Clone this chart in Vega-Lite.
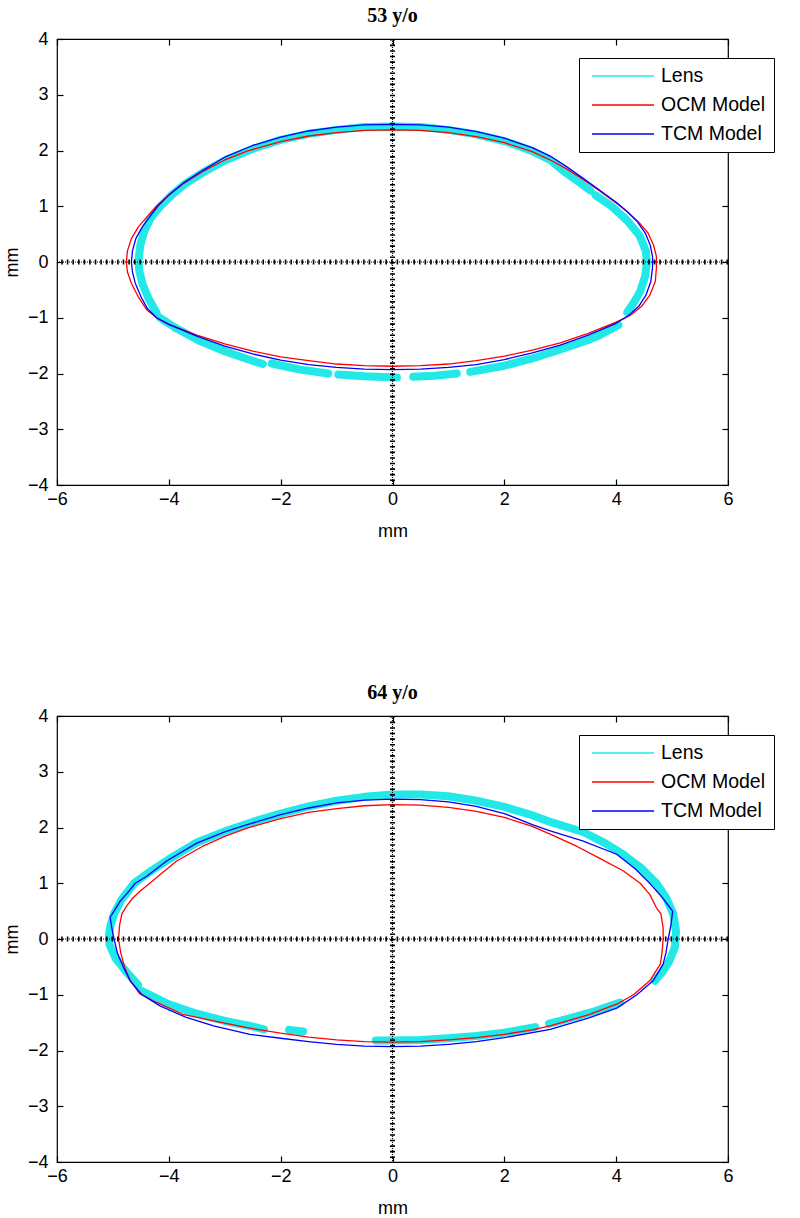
{
  "$schema": "https://vega.github.io/schema/vega-lite/v6.json",
  "background": "white",
  "padding": {"left": 2, "top": 5, "right": 5, "bottom": 5},
  "config": {
    "view": {"stroke": "black", "strokeWidth": 1.2},
    "axis": {"grid": false, "domain": false, "tickColor": "black", "tickWidth": 1.2, "tickSize": -6, "labelFlush": false, "labelOverlap": false, "labelFont": "Liberation Sans", "labelFontSize": 18, "labelColor": "black", "titleFont": "Liberation Sans", "titleFontSize": 18, "titleFontWeight": "normal", "titleColor": "black"},
    "title": {"font": "Liberation Serif", "fontSize": 20, "fontWeight": "bold", "color": "black", "anchor": "middle", "offset": 4},
    "line": {"strokeCap": "round", "strokeJoin": "round"}
  },
  "datasets": {
    "d53": [
      {"s":"OCM Model","g":"O","i":0,"x":-4.76,"y":0},{"s":"OCM Model","g":"O","i":1,"x":-4.74,"y":0.2},{"s":"OCM Model","g":"O","i":2,"x":-4.67,"y":0.42},{"s":"OCM Model","g":"O","i":3,"x":-4.55,"y":0.62},{"s":"OCM Model","g":"O","i":4,"x":-4.4,"y":0.8},{"s":"OCM Model","g":"O","i":5,"x":-4.22,"y":1.0},{"s":"OCM Model","g":"O","i":6,"x":-4.0,"y":1.2},{"s":"OCM Model","g":"O","i":7,"x":-3.75,"y":1.4},{"s":"OCM Model","g":"O","i":8,"x":-3.4,"y":1.62},{"s":"OCM Model","g":"O","i":9,"x":-3.0,"y":1.83},{"s":"OCM Model","g":"O","i":10,"x":-2.6,"y":1.99},{"s":"OCM Model","g":"O","i":11,"x":-2.0,"y":2.16},{"s":"OCM Model","g":"O","i":12,"x":-1.5,"y":2.26},{"s":"OCM Model","g":"O","i":13,"x":-1.0,"y":2.32},{"s":"OCM Model","g":"O","i":14,"x":-0.5,"y":2.36},{"s":"OCM Model","g":"O","i":15,"x":0,"y":2.37},{"s":"OCM Model","g":"O","i":16,"x":0.5,"y":2.36},{"s":"OCM Model","g":"O","i":17,"x":1.0,"y":2.32},{"s":"OCM Model","g":"O","i":18,"x":1.5,"y":2.25},{"s":"OCM Model","g":"O","i":19,"x":2.0,"y":2.14},{"s":"OCM Model","g":"O","i":20,"x":2.5,"y":1.98},{"s":"OCM Model","g":"O","i":21,"x":2.82,"y":1.83},{"s":"OCM Model","g":"O","i":22,"x":3.1,"y":1.68},{"s":"OCM Model","g":"O","i":23,"x":3.41,"y":1.48},{"s":"OCM Model","g":"O","i":24,"x":3.7,"y":1.28},{"s":"OCM Model","g":"O","i":25,"x":4.0,"y":1.06},{"s":"OCM Model","g":"O","i":26,"x":4.2,"y":0.9},{"s":"OCM Model","g":"O","i":27,"x":4.4,"y":0.72},{"s":"OCM Model","g":"O","i":28,"x":4.57,"y":0.52},{"s":"OCM Model","g":"O","i":29,"x":4.67,"y":0.3},{"s":"OCM Model","g":"O","i":30,"x":4.72,"y":0.1},{"s":"OCM Model","g":"O","i":31,"x":4.72,"y":-0.1},{"s":"OCM Model","g":"O","i":32,"x":4.7,"y":-0.35},{"s":"OCM Model","g":"O","i":33,"x":4.6,"y":-0.6},{"s":"OCM Model","g":"O","i":34,"x":4.45,"y":-0.8},{"s":"OCM Model","g":"O","i":35,"x":4.25,"y":-0.96},{"s":"OCM Model","g":"O","i":36,"x":4.0,"y":-1.08},{"s":"OCM Model","g":"O","i":37,"x":3.5,"y":-1.28},{"s":"OCM Model","g":"O","i":38,"x":3.0,"y":-1.45},{"s":"OCM Model","g":"O","i":39,"x":2.5,"y":-1.58},{"s":"OCM Model","g":"O","i":40,"x":2.0,"y":-1.69},{"s":"OCM Model","g":"O","i":41,"x":1.5,"y":-1.77},{"s":"OCM Model","g":"O","i":42,"x":1.0,"y":-1.83},{"s":"OCM Model","g":"O","i":43,"x":0.5,"y":-1.86},{"s":"OCM Model","g":"O","i":44,"x":0,"y":-1.87},{"s":"OCM Model","g":"O","i":45,"x":-0.5,"y":-1.86},{"s":"OCM Model","g":"O","i":46,"x":-1.0,"y":-1.83},{"s":"OCM Model","g":"O","i":47,"x":-1.5,"y":-1.77},{"s":"OCM Model","g":"O","i":48,"x":-2.0,"y":-1.7},{"s":"OCM Model","g":"O","i":49,"x":-2.5,"y":-1.6},{"s":"OCM Model","g":"O","i":50,"x":-3.0,"y":-1.47},{"s":"OCM Model","g":"O","i":51,"x":-3.5,"y":-1.31},{"s":"OCM Model","g":"O","i":52,"x":-4.0,"y":-1.12},{"s":"OCM Model","g":"O","i":53,"x":-4.22,"y":-1.0},{"s":"OCM Model","g":"O","i":54,"x":-4.4,"y":-0.85},{"s":"OCM Model","g":"O","i":55,"x":-4.55,"y":-0.62},{"s":"OCM Model","g":"O","i":56,"x":-4.67,"y":-0.38},{"s":"OCM Model","g":"O","i":57,"x":-4.74,"y":-0.18},{"s":"OCM Model","g":"O","i":58,"x":-4.76,"y":0},
      {"s":"TCM Model","g":"T","i":0,"x":-4.67,"y":0},{"s":"TCM Model","g":"T","i":1,"x":-4.65,"y":0.2},{"s":"TCM Model","g":"T","i":2,"x":-4.59,"y":0.42},{"s":"TCM Model","g":"T","i":3,"x":-4.48,"y":0.62},{"s":"TCM Model","g":"T","i":4,"x":-4.35,"y":0.8},{"s":"TCM Model","g":"T","i":5,"x":-4.2,"y":1.0},{"s":"TCM Model","g":"T","i":6,"x":-4.0,"y":1.2},{"s":"TCM Model","g":"T","i":7,"x":-3.75,"y":1.41},{"s":"TCM Model","g":"T","i":8,"x":-3.4,"y":1.64},{"s":"TCM Model","g":"T","i":9,"x":-3.0,"y":1.88},{"s":"TCM Model","g":"T","i":10,"x":-2.5,"y":2.09},{"s":"TCM Model","g":"T","i":11,"x":-2.0,"y":2.24},{"s":"TCM Model","g":"T","i":12,"x":-1.5,"y":2.35},{"s":"TCM Model","g":"T","i":13,"x":-1.0,"y":2.42},{"s":"TCM Model","g":"T","i":14,"x":-0.5,"y":2.46},{"s":"TCM Model","g":"T","i":15,"x":0,"y":2.47},{"s":"TCM Model","g":"T","i":16,"x":0.5,"y":2.46},{"s":"TCM Model","g":"T","i":17,"x":1.0,"y":2.42},{"s":"TCM Model","g":"T","i":18,"x":1.5,"y":2.34},{"s":"TCM Model","g":"T","i":19,"x":2.0,"y":2.22},{"s":"TCM Model","g":"T","i":20,"x":2.5,"y":2.05},{"s":"TCM Model","g":"T","i":21,"x":2.82,"y":1.9},{"s":"TCM Model","g":"T","i":22,"x":3.1,"y":1.72},{"s":"TCM Model","g":"T","i":23,"x":3.41,"y":1.5},{"s":"TCM Model","g":"T","i":24,"x":3.7,"y":1.29},{"s":"TCM Model","g":"T","i":25,"x":4.0,"y":1.07},{"s":"TCM Model","g":"T","i":26,"x":4.2,"y":0.9},{"s":"TCM Model","g":"T","i":27,"x":4.38,"y":0.72},{"s":"TCM Model","g":"T","i":28,"x":4.52,"y":0.52},{"s":"TCM Model","g":"T","i":29,"x":4.61,"y":0.3},{"s":"TCM Model","g":"T","i":30,"x":4.65,"y":0.1},{"s":"TCM Model","g":"T","i":31,"x":4.65,"y":-0.1},{"s":"TCM Model","g":"T","i":32,"x":4.62,"y":-0.35},{"s":"TCM Model","g":"T","i":33,"x":4.53,"y":-0.6},{"s":"TCM Model","g":"T","i":34,"x":4.4,"y":-0.8},{"s":"TCM Model","g":"T","i":35,"x":4.22,"y":-0.96},{"s":"TCM Model","g":"T","i":36,"x":4.0,"y":-1.1},{"s":"TCM Model","g":"T","i":37,"x":3.5,"y":-1.31},{"s":"TCM Model","g":"T","i":38,"x":3.0,"y":-1.49},{"s":"TCM Model","g":"T","i":39,"x":2.5,"y":-1.63},{"s":"TCM Model","g":"T","i":40,"x":2.0,"y":-1.75},{"s":"TCM Model","g":"T","i":41,"x":1.5,"y":-1.84},{"s":"TCM Model","g":"T","i":42,"x":1.0,"y":-1.89},{"s":"TCM Model","g":"T","i":43,"x":0.5,"y":-1.92},{"s":"TCM Model","g":"T","i":44,"x":0,"y":-1.93},{"s":"TCM Model","g":"T","i":45,"x":-0.5,"y":-1.92},{"s":"TCM Model","g":"T","i":46,"x":-1.0,"y":-1.89},{"s":"TCM Model","g":"T","i":47,"x":-1.5,"y":-1.84},{"s":"TCM Model","g":"T","i":48,"x":-2.0,"y":-1.76},{"s":"TCM Model","g":"T","i":49,"x":-2.5,"y":-1.65},{"s":"TCM Model","g":"T","i":50,"x":-3.0,"y":-1.51},{"s":"TCM Model","g":"T","i":51,"x":-3.5,"y":-1.33},{"s":"TCM Model","g":"T","i":52,"x":-4.0,"y":-1.12},{"s":"TCM Model","g":"T","i":53,"x":-4.22,"y":-1.0},{"s":"TCM Model","g":"T","i":54,"x":-4.38,"y":-0.84},{"s":"TCM Model","g":"T","i":55,"x":-4.5,"y":-0.62},{"s":"TCM Model","g":"T","i":56,"x":-4.6,"y":-0.38},{"s":"TCM Model","g":"T","i":57,"x":-4.65,"y":-0.18},{"s":"TCM Model","g":"T","i":58,"x":-4.67,"y":0},
      {"s":"Lens","g":"L1","i":0,"x":-4.22,"y":-0.91},{"s":"Lens","g":"L1","i":1,"x":-4.36,"y":-0.66},{"s":"Lens","g":"L1","i":2,"x":-4.47,"y":-0.4},{"s":"Lens","g":"L1","i":3,"x":-4.53,"y":-0.15},{"s":"Lens","g":"L1","i":4,"x":-4.54,"y":0.05},{"s":"Lens","g":"L1","i":5,"x":-4.51,"y":0.3},{"s":"Lens","g":"L1","i":6,"x":-4.44,"y":0.55},{"s":"Lens","g":"L1","i":7,"x":-4.32,"y":0.8},{"s":"Lens","g":"L1","i":8,"x":-4.15,"y":1.0},{"s":"Lens","g":"L1","i":9,"x":-3.95,"y":1.2},{"s":"Lens","g":"L1","i":10,"x":-3.71,"y":1.4},{"s":"Lens","g":"L1","i":11,"x":-3.4,"y":1.6},{"s":"Lens","g":"L1","i":12,"x":-3.0,"y":1.82},{"s":"Lens","g":"L1","i":13,"x":-2.5,"y":2.03},{"s":"Lens","g":"L1","i":14,"x":-2.0,"y":2.19},{"s":"Lens","g":"L1","i":15,"x":-1.5,"y":2.3},{"s":"Lens","g":"L1","i":16,"x":-1.0,"y":2.37},{"s":"Lens","g":"L1","i":17,"x":-0.5,"y":2.42},{"s":"Lens","g":"L1","i":18,"x":0,"y":2.43},{"s":"Lens","g":"L1","i":19,"x":0.5,"y":2.42},{"s":"Lens","g":"L1","i":20,"x":1.0,"y":2.37},{"s":"Lens","g":"L1","i":21,"x":1.5,"y":2.29},{"s":"Lens","g":"L1","i":22,"x":2.0,"y":2.17},{"s":"Lens","g":"L1","i":23,"x":2.5,"y":1.99},{"s":"Lens","g":"L1","i":24,"x":2.82,"y":1.83},{"s":"Lens","g":"L1","i":25,"x":3.1,"y":1.6},{"s":"Lens","g":"L1","i":26,"x":3.41,"y":1.38},{"s":"Lens","g":"L1","i":27,"x":3.54,"y":1.28},
      {"s":"Lens","g":"L2","i":0,"x":3.63,"y":1.2},{"s":"Lens","g":"L2","i":1,"x":3.92,"y":1.0},{"s":"Lens","g":"L2","i":2,"x":4.2,"y":0.74},{"s":"Lens","g":"L2","i":3,"x":4.42,"y":0.47},{"s":"Lens","g":"L2","i":4,"x":4.53,"y":0.2},{"s":"Lens","g":"L2","i":5,"x":4.55,"y":0},{"s":"Lens","g":"L2","i":6,"x":4.52,"y":-0.25},{"s":"Lens","g":"L2","i":7,"x":4.43,"y":-0.53},{"s":"Lens","g":"L2","i":8,"x":4.32,"y":-0.72},{"s":"Lens","g":"L2","i":9,"x":4.2,"y":-0.9},
      {"s":"Lens","g":"L3","i":0,"x":4.04,"y":-1.13},{"s":"Lens","g":"L3","i":1,"x":3.71,"y":-1.31},{"s":"Lens","g":"L3","i":2,"x":3.5,"y":-1.4},{"s":"Lens","g":"L3","i":3,"x":3.0,"y":-1.57},{"s":"Lens","g":"L3","i":4,"x":2.5,"y":-1.73},{"s":"Lens","g":"L3","i":5,"x":2.0,"y":-1.86},{"s":"Lens","g":"L3","i":6,"x":1.39,"y":-1.97},
      {"s":"Lens","g":"L4","i":0,"x":0.37,"y":-2.06},{"s":"Lens","g":"L4","i":1,"x":0.75,"y":-2.04},{"s":"Lens","g":"L4","i":2,"x":1.15,"y":-2.0},
      {"s":"Lens","g":"L5","i":0,"x":-0.97,"y":-2.02},{"s":"Lens","g":"L5","i":1,"x":-0.5,"y":-2.05},{"s":"Lens","g":"L5","i":2,"x":0.08,"y":-2.07},
      {"s":"Lens","g":"L6","i":0,"x":-2.16,"y":-1.82},{"s":"Lens","g":"L6","i":1,"x":-1.65,"y":-1.93},{"s":"Lens","g":"L6","i":2,"x":-1.15,"y":-2.0},
      {"s":"Lens","g":"L7","i":0,"x":-4.16,"y":-1.0},{"s":"Lens","g":"L7","i":1,"x":-3.9,"y":-1.17},{"s":"Lens","g":"L7","i":2,"x":-3.44,"y":-1.42},{"s":"Lens","g":"L7","i":3,"x":-3.0,"y":-1.6},{"s":"Lens","g":"L7","i":4,"x":-2.6,"y":-1.74},{"s":"Lens","g":"L7","i":5,"x":-2.32,"y":-1.83}
    ],
    "d64": [
      {"s":"OCM Model","g":"O","i":0,"x":-4.9,"y":0},{"s":"OCM Model","g":"O","i":1,"x":-4.88,"y":0.25},{"s":"OCM Model","g":"O","i":2,"x":-4.84,"y":0.45},{"s":"OCM Model","g":"O","i":3,"x":-4.75,"y":0.6},{"s":"OCM Model","g":"O","i":4,"x":-4.64,"y":0.74},{"s":"OCM Model","g":"O","i":5,"x":-4.5,"y":0.87},{"s":"OCM Model","g":"O","i":6,"x":-4.34,"y":1.0},{"s":"OCM Model","g":"O","i":7,"x":-4.1,"y":1.2},{"s":"OCM Model","g":"O","i":8,"x":-3.86,"y":1.4},{"s":"OCM Model","g":"O","i":9,"x":-3.4,"y":1.66},{"s":"OCM Model","g":"O","i":10,"x":-3.0,"y":1.84},{"s":"OCM Model","g":"O","i":11,"x":-2.6,"y":1.99},{"s":"OCM Model","g":"O","i":12,"x":-2.0,"y":2.16},{"s":"OCM Model","g":"O","i":13,"x":-1.5,"y":2.27},{"s":"OCM Model","g":"O","i":14,"x":-1.0,"y":2.34},{"s":"OCM Model","g":"O","i":15,"x":-0.5,"y":2.39},{"s":"OCM Model","g":"O","i":16,"x":0,"y":2.41},{"s":"OCM Model","g":"O","i":17,"x":0.5,"y":2.4},{"s":"OCM Model","g":"O","i":18,"x":1.0,"y":2.36},{"s":"OCM Model","g":"O","i":19,"x":1.5,"y":2.29},{"s":"OCM Model","g":"O","i":20,"x":2.0,"y":2.18},{"s":"OCM Model","g":"O","i":21,"x":2.5,"y":2.02},{"s":"OCM Model","g":"O","i":22,"x":2.82,"y":1.88},{"s":"OCM Model","g":"O","i":23,"x":3.3,"y":1.66},{"s":"OCM Model","g":"O","i":24,"x":3.7,"y":1.45},{"s":"OCM Model","g":"O","i":25,"x":4.13,"y":1.22},{"s":"OCM Model","g":"O","i":26,"x":4.43,"y":1.0},{"s":"OCM Model","g":"O","i":27,"x":4.6,"y":0.8},{"s":"OCM Model","g":"O","i":28,"x":4.72,"y":0.56},{"s":"OCM Model","g":"O","i":29,"x":4.8,"y":0.45},{"s":"OCM Model","g":"O","i":30,"x":4.84,"y":0.2},{"s":"OCM Model","g":"O","i":31,"x":4.84,"y":0},{"s":"OCM Model","g":"O","i":32,"x":4.82,"y":-0.25},{"s":"OCM Model","g":"O","i":33,"x":4.79,"y":-0.45},{"s":"OCM Model","g":"O","i":34,"x":4.6,"y":-0.75},{"s":"OCM Model","g":"O","i":35,"x":4.31,"y":-1.0},{"s":"OCM Model","g":"O","i":36,"x":4.01,"y":-1.17},{"s":"OCM Model","g":"O","i":37,"x":3.5,"y":-1.36},{"s":"OCM Model","g":"O","i":38,"x":2.82,"y":-1.56},{"s":"OCM Model","g":"O","i":39,"x":2.5,"y":-1.63},{"s":"OCM Model","g":"O","i":40,"x":2.0,"y":-1.71},{"s":"OCM Model","g":"O","i":41,"x":1.5,"y":-1.77},{"s":"OCM Model","g":"O","i":42,"x":1.0,"y":-1.81},{"s":"OCM Model","g":"O","i":43,"x":0.5,"y":-1.84},{"s":"OCM Model","g":"O","i":44,"x":0,"y":-1.85},{"s":"OCM Model","g":"O","i":45,"x":-0.5,"y":-1.84},{"s":"OCM Model","g":"O","i":46,"x":-1.0,"y":-1.81},{"s":"OCM Model","g":"O","i":47,"x":-1.5,"y":-1.76},{"s":"OCM Model","g":"O","i":48,"x":-2.0,"y":-1.69},{"s":"OCM Model","g":"O","i":49,"x":-2.6,"y":-1.59},{"s":"OCM Model","g":"O","i":50,"x":-3.2,"y":-1.47},{"s":"OCM Model","g":"O","i":51,"x":-3.75,"y":-1.35},{"s":"OCM Model","g":"O","i":52,"x":-4.28,"y":-1.11},{"s":"OCM Model","g":"O","i":53,"x":-4.52,"y":-0.98},{"s":"OCM Model","g":"O","i":54,"x":-4.69,"y":-0.75},{"s":"OCM Model","g":"O","i":55,"x":-4.79,"y":-0.51},{"s":"OCM Model","g":"O","i":56,"x":-4.86,"y":-0.25},{"s":"OCM Model","g":"O","i":57,"x":-4.9,"y":0},
      {"s":"TCM Model","g":"T","i":0,"x":-4.98,"y":0},{"s":"TCM Model","g":"T","i":1,"x":-5.02,"y":0.2},{"s":"TCM Model","g":"T","i":2,"x":-5.05,"y":0.39},{"s":"TCM Model","g":"T","i":3,"x":-4.95,"y":0.55},{"s":"TCM Model","g":"T","i":4,"x":-4.87,"y":0.68},{"s":"TCM Model","g":"T","i":5,"x":-4.72,"y":0.85},{"s":"TCM Model","g":"T","i":6,"x":-4.6,"y":1.0},{"s":"TCM Model","g":"T","i":7,"x":-4.4,"y":1.12},{"s":"TCM Model","g":"T","i":8,"x":-4.04,"y":1.4},{"s":"TCM Model","g":"T","i":9,"x":-3.5,"y":1.72},{"s":"TCM Model","g":"T","i":10,"x":-3.0,"y":1.92},{"s":"TCM Model","g":"T","i":11,"x":-2.67,"y":2.03},{"s":"TCM Model","g":"T","i":12,"x":-2.0,"y":2.23},{"s":"TCM Model","g":"T","i":13,"x":-1.5,"y":2.35},{"s":"TCM Model","g":"T","i":14,"x":-1.0,"y":2.44},{"s":"TCM Model","g":"T","i":15,"x":-0.5,"y":2.49},{"s":"TCM Model","g":"T","i":16,"x":0,"y":2.51},{"s":"TCM Model","g":"T","i":17,"x":0.5,"y":2.5},{"s":"TCM Model","g":"T","i":18,"x":1.0,"y":2.46},{"s":"TCM Model","g":"T","i":19,"x":1.5,"y":2.38},{"s":"TCM Model","g":"T","i":20,"x":2.0,"y":2.25},{"s":"TCM Model","g":"T","i":21,"x":2.5,"y":2.05},{"s":"TCM Model","g":"T","i":22,"x":2.82,"y":1.94},{"s":"TCM Model","g":"T","i":23,"x":3.4,"y":1.76},{"s":"TCM Model","g":"T","i":24,"x":4.01,"y":1.52},{"s":"TCM Model","g":"T","i":25,"x":4.35,"y":1.25},{"s":"TCM Model","g":"T","i":26,"x":4.6,"y":1.0},{"s":"TCM Model","g":"T","i":27,"x":4.82,"y":0.75},{"s":"TCM Model","g":"T","i":28,"x":5.01,"y":0.5},{"s":"TCM Model","g":"T","i":29,"x":4.98,"y":0.25},{"s":"TCM Model","g":"T","i":30,"x":4.93,"y":0},{"s":"TCM Model","g":"T","i":31,"x":4.89,"y":-0.25},{"s":"TCM Model","g":"T","i":32,"x":4.84,"y":-0.45},{"s":"TCM Model","g":"T","i":33,"x":4.66,"y":-0.75},{"s":"TCM Model","g":"T","i":34,"x":4.37,"y":-1.0},{"s":"TCM Model","g":"T","i":35,"x":4.01,"y":-1.24},{"s":"TCM Model","g":"T","i":36,"x":3.5,"y":-1.42},{"s":"TCM Model","g":"T","i":37,"x":2.82,"y":-1.62},{"s":"TCM Model","g":"T","i":38,"x":2.0,"y":-1.77},{"s":"TCM Model","g":"T","i":39,"x":1.5,"y":-1.84},{"s":"TCM Model","g":"T","i":40,"x":1.0,"y":-1.89},{"s":"TCM Model","g":"T","i":41,"x":0.5,"y":-1.92},{"s":"TCM Model","g":"T","i":42,"x":0,"y":-1.93},{"s":"TCM Model","g":"T","i":43,"x":-0.5,"y":-1.92},{"s":"TCM Model","g":"T","i":44,"x":-1.0,"y":-1.89},{"s":"TCM Model","g":"T","i":45,"x":-1.5,"y":-1.84},{"s":"TCM Model","g":"T","i":46,"x":-2.0,"y":-1.78},{"s":"TCM Model","g":"T","i":47,"x":-2.55,"y":-1.71},{"s":"TCM Model","g":"T","i":48,"x":-3.2,"y":-1.56},{"s":"TCM Model","g":"T","i":49,"x":-3.7,"y":-1.4},{"s":"TCM Model","g":"T","i":50,"x":-4.16,"y":-1.2},{"s":"TCM Model","g":"T","i":51,"x":-4.49,"y":-0.99},{"s":"TCM Model","g":"T","i":52,"x":-4.69,"y":-0.75},{"s":"TCM Model","g":"T","i":53,"x":-4.81,"y":-0.51},{"s":"TCM Model","g":"T","i":54,"x":-4.92,"y":-0.25},{"s":"TCM Model","g":"T","i":55,"x":-4.98,"y":0},
      {"s":"Lens","g":"L1","i":0,"x":-4.55,"y":-0.82},{"s":"Lens","g":"L1","i":1,"x":-4.75,"y":-0.6},{"s":"Lens","g":"L1","i":2,"x":-4.95,"y":-0.35},{"s":"Lens","g":"L1","i":3,"x":-5.06,"y":-0.1},{"s":"Lens","g":"L1","i":4,"x":-5.07,"y":0.05},{"s":"Lens","g":"L1","i":5,"x":-5.05,"y":0.22},{"s":"Lens","g":"L1","i":6,"x":-4.98,"y":0.45},{"s":"Lens","g":"L1","i":7,"x":-4.85,"y":0.7},{"s":"Lens","g":"L1","i":8,"x":-4.62,"y":1.0},{"s":"Lens","g":"L1","i":9,"x":-4.35,"y":1.2},{"s":"Lens","g":"L1","i":10,"x":-4.0,"y":1.43},{"s":"Lens","g":"L1","i":11,"x":-3.5,"y":1.73},{"s":"Lens","g":"L1","i":12,"x":-3.0,"y":1.93},{"s":"Lens","g":"L1","i":13,"x":-2.5,"y":2.1},{"s":"Lens","g":"L1","i":14,"x":-2.0,"y":2.25},{"s":"Lens","g":"L1","i":15,"x":-1.5,"y":2.38},{"s":"Lens","g":"L1","i":16,"x":-1.0,"y":2.48},{"s":"Lens","g":"L1","i":17,"x":-0.5,"y":2.55},{"s":"Lens","g":"L1","i":18,"x":0,"y":2.59},{"s":"Lens","g":"L1","i":19,"x":0.5,"y":2.59},{"s":"Lens","g":"L1","i":20,"x":1.0,"y":2.56},{"s":"Lens","g":"L1","i":21,"x":1.5,"y":2.48},{"s":"Lens","g":"L1","i":22,"x":2.0,"y":2.37},{"s":"Lens","g":"L1","i":23,"x":2.5,"y":2.22},{"s":"Lens","g":"L1","i":24,"x":2.82,"y":2.1},{"s":"Lens","g":"L1","i":25,"x":3.41,"y":1.92},{"s":"Lens","g":"L1","i":26,"x":3.8,"y":1.72},{"s":"Lens","g":"L1","i":27,"x":4.12,"y":1.52},{"s":"Lens","g":"L1","i":28,"x":4.45,"y":1.27},{"s":"Lens","g":"L1","i":29,"x":4.72,"y":1.0},{"s":"Lens","g":"L1","i":30,"x":4.9,"y":0.73},{"s":"Lens","g":"L1","i":31,"x":5.02,"y":0.45},{"s":"Lens","g":"L1","i":32,"x":5.07,"y":0.15},{"s":"Lens","g":"L1","i":33,"x":5.05,"y":-0.15},{"s":"Lens","g":"L1","i":34,"x":4.95,"y":-0.4},{"s":"Lens","g":"L1","i":35,"x":4.82,"y":-0.6},{"s":"Lens","g":"L1","i":36,"x":4.69,"y":-0.75},
      {"s":"Lens","g":"L2","i":0,"x":4.07,"y":-1.14},{"s":"Lens","g":"L2","i":1,"x":3.6,"y":-1.3},{"s":"Lens","g":"L2","i":2,"x":3.0,"y":-1.47},{"s":"Lens","g":"L2","i":3,"x":2.8,"y":-1.52},
      {"s":"Lens","g":"L3","i":0,"x":2.55,"y":-1.58},{"s":"Lens","g":"L3","i":1,"x":2.0,"y":-1.68},{"s":"Lens","g":"L3","i":2,"x":1.5,"y":-1.74},{"s":"Lens","g":"L3","i":3,"x":1.0,"y":-1.78},{"s":"Lens","g":"L3","i":4,"x":0.5,"y":-1.81},{"s":"Lens","g":"L3","i":5,"x":0,"y":-1.82},{"s":"Lens","g":"L3","i":6,"x":-0.3,"y":-1.82},
      {"s":"Lens","g":"L4","i":0,"x":-1.85,"y":-1.63},{"s":"Lens","g":"L4","i":1,"x":-1.6,"y":-1.66},
      {"s":"Lens","g":"L5","i":0,"x":-4.49,"y":-0.93},{"s":"Lens","g":"L5","i":1,"x":-4.0,"y":-1.17},{"s":"Lens","g":"L5","i":2,"x":-3.5,"y":-1.34},{"s":"Lens","g":"L5","i":3,"x":-3.0,"y":-1.47},{"s":"Lens","g":"L5","i":4,"x":-2.55,"y":-1.56},{"s":"Lens","g":"L5","i":5,"x":-2.3,"y":-1.62}
    ],
    "zero": [{"v": 0}]
  },
  "resolve": {"scale": {"color": "independent"}},
  "spacing": 231,
  "bounds": "flush",
  "vconcat": [
    {
      "title": {"text": "53 y/o"},
      "width": 671, "height": 446,
      "resolve": {"axis": {"x": "independent", "y": "independent"}},
      "layer": [
        {
          "data": {"name": "d53"},
          "transform": [{"filter": "datum.s === 'Lens'"}],
          "mark": {"type": "line", "strokeWidth": 8},
          "encoding": {
            "x": {"field": "x", "type": "quantitative", "scale": {"domain": [-6, 6], "nice": false, "zero": false}, "axis": {"orient": "bottom", "values": [-6, -4, -2, 0, 2, 4, 6], "title": "mm", "labelPadding": 11, "titlePadding": 14}},
            "y": {"field": "y", "type": "quantitative", "scale": {"domain": [-4, 4], "nice": false, "zero": false}, "axis": {"orient": "left", "values": [-4, -3, -2, -1, 0, 1, 2, 3, 4], "title": "mm", "labelPadding": 15, "titlePadding": 6}},
            "color": {"field": "s", "type": "nominal", "scale": {"domain": ["Lens", "OCM Model", "TCM Model"], "range": ["#22e8e8", "#ff0000", "#0000ff"]},
              "legend": {"title": null, "orient": "none", "legendX": 522, "legendY": 19, "strokeColor": "black", "fillColor": "white", "padding": 8, "symbolType": "stroke", "symbolSize": 3844, "symbolStrokeWidth": 1.5, "symbolOffset": 4, "labelOffset": 6, "rowPadding": 9, "clipHeight": 20, "labelFont": "Liberation Sans", "labelFontSize": 19.5, "labelColor": "black",
                "encode": {"symbols": {"update": {"strokeWidth": {"value": 1.5}, "fill": {"value": "transparent"}, "opacity": {"value": 1}}}}}},
            "detail": {"field": "g"},
            "order": {"field": "i", "type": "quantitative"}
          }
        },
        {
          "data": {"name": "d53"},
          "transform": [{"filter": "datum.s !== 'Lens'"}],
          "mark": {"type": "line", "strokeWidth": 1.3},
          "encoding": {
            "x": {"field": "x", "type": "quantitative", "scale": {"domain": [-6, 6], "nice": false, "zero": false}, "axis": null},
            "y": {"field": "y", "type": "quantitative", "scale": {"domain": [-4, 4], "nice": false, "zero": false}, "axis": null},
            "color": {"field": "s", "type": "nominal"},
            "detail": {"field": "g"},
            "order": {"field": "i", "type": "quantitative"}
          }
        },
        {
          "data": {"name": "zero"},
          "mark": {"type": "rule", "color": "black", "strokeWidth": 1.2, "strokeDash": [1, 1]},
          "encoding": {"y": {"field": "v", "type": "quantitative", "scale": {"domain": [-4, 4], "nice": false, "zero": false}, "axis": {"orient": "right", "values": [-4, -3, -2, -1, 0, 1, 2, 3, 4], "labels": false, "title": null}}}
        },
        {
          "data": {"name": "zero"},
          "mark": {"type": "rule", "color": "black", "strokeWidth": 5, "strokeDash": [1.6, 3.99]},
          "encoding": {"y": {"field": "v", "type": "quantitative", "axis": null}}
        },
        {
          "data": {"name": "zero"},
          "mark": {"type": "rule", "color": "black", "strokeWidth": 1.2, "strokeDash": [1, 1]},
          "encoding": {"x": {"field": "v", "type": "quantitative", "scale": {"domain": [-6, 6], "nice": false, "zero": false}, "axis": {"orient": "top", "values": [-6, -4, -2, 0, 2, 4, 6], "labels": false, "title": null}}}
        },
        {
          "data": {"name": "zero"},
          "mark": {"type": "rule", "color": "black", "strokeWidth": 5, "strokeDash": [1.6, 3.975]},
          "encoding": {"x": {"field": "v", "type": "quantitative", "axis": null}}
        }
      ]
    },
    {
      "title": {"text": "64 y/o"},
      "width": 671, "height": 446,
      "resolve": {"axis": {"x": "independent", "y": "independent"}},
      "layer": [
        {
          "data": {"name": "d64"},
          "transform": [{"filter": "datum.s === 'Lens'"}],
          "mark": {"type": "line", "strokeWidth": 8},
          "encoding": {
            "x": {"field": "x", "type": "quantitative", "scale": {"domain": [-6, 6], "nice": false, "zero": false}, "axis": {"orient": "bottom", "values": [-6, -4, -2, 0, 2, 4, 6], "title": "mm", "labelPadding": 11, "titlePadding": 14}},
            "y": {"field": "y", "type": "quantitative", "scale": {"domain": [-4, 4], "nice": false, "zero": false}, "axis": {"orient": "left", "values": [-4, -3, -2, -1, 0, 1, 2, 3, 4], "title": "mm", "labelPadding": 15, "titlePadding": 6}},
            "color": {"field": "s", "type": "nominal", "scale": {"domain": ["Lens", "OCM Model", "TCM Model"], "range": ["#22e8e8", "#ff0000", "#0000ff"]},
              "legend": {"title": null, "orient": "none", "legendX": 522, "legendY": 19, "strokeColor": "black", "fillColor": "white", "padding": 8, "symbolType": "stroke", "symbolSize": 3844, "symbolStrokeWidth": 1.5, "symbolOffset": 4, "labelOffset": 6, "rowPadding": 9, "clipHeight": 20, "labelFont": "Liberation Sans", "labelFontSize": 19.5, "labelColor": "black",
                "encode": {"symbols": {"update": {"strokeWidth": {"value": 1.5}, "fill": {"value": "transparent"}, "opacity": {"value": 1}}}}}},
            "detail": {"field": "g"},
            "order": {"field": "i", "type": "quantitative"}
          }
        },
        {
          "data": {"name": "d64"},
          "transform": [{"filter": "datum.s !== 'Lens'"}],
          "mark": {"type": "line", "strokeWidth": 1.3},
          "encoding": {
            "x": {"field": "x", "type": "quantitative", "scale": {"domain": [-6, 6], "nice": false, "zero": false}, "axis": null},
            "y": {"field": "y", "type": "quantitative", "scale": {"domain": [-4, 4], "nice": false, "zero": false}, "axis": null},
            "color": {"field": "s", "type": "nominal"},
            "detail": {"field": "g"},
            "order": {"field": "i", "type": "quantitative"}
          }
        },
        {
          "data": {"name": "zero"},
          "mark": {"type": "rule", "color": "black", "strokeWidth": 1.2, "strokeDash": [1, 1]},
          "encoding": {"y": {"field": "v", "type": "quantitative", "scale": {"domain": [-4, 4], "nice": false, "zero": false}, "axis": {"orient": "right", "values": [-4, -3, -2, -1, 0, 1, 2, 3, 4], "labels": false, "title": null}}}
        },
        {
          "data": {"name": "zero"},
          "mark": {"type": "rule", "color": "black", "strokeWidth": 5, "strokeDash": [1.6, 3.99]},
          "encoding": {"y": {"field": "v", "type": "quantitative", "axis": null}}
        },
        {
          "data": {"name": "zero"},
          "mark": {"type": "rule", "color": "black", "strokeWidth": 1.2, "strokeDash": [1, 1]},
          "encoding": {"x": {"field": "v", "type": "quantitative", "scale": {"domain": [-6, 6], "nice": false, "zero": false}, "axis": {"orient": "top", "values": [-6, -4, -2, 0, 2, 4, 6], "labels": false, "title": null}}}
        },
        {
          "data": {"name": "zero"},
          "mark": {"type": "rule", "color": "black", "strokeWidth": 5, "strokeDash": [1.6, 3.975]},
          "encoding": {"x": {"field": "v", "type": "quantitative", "axis": null}}
        }
      ]
    }
  ]
}
